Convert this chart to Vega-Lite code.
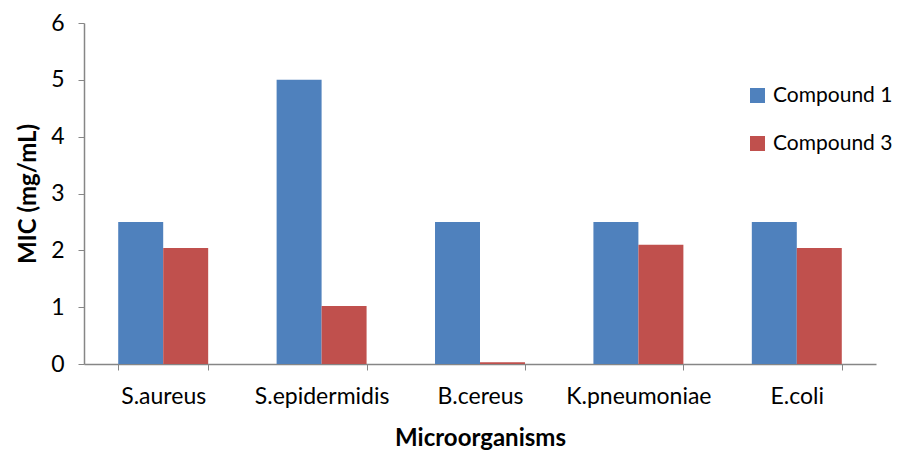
{
  "$schema": "https://vega.github.io/schema/vega-lite/v6.json",
  "width": 792,
  "height": 341,
  "autosize": {"type": "none"},
  "padding": {"left": 84, "top": 23, "right": 35, "bottom": 86},
  "background": "white",
  "config": {
    "font": "Lato",
    "view": {"stroke": null}
  },
  "data": {
    "values": [
      {"organism": "S.aureus", "compound": "Compound 1", "mic": 2.5},
      {"organism": "S.aureus", "compound": "Compound 3", "mic": 2.04},
      {"organism": "S.epidermidis", "compound": "Compound 1", "mic": 5.0},
      {"organism": "S.epidermidis", "compound": "Compound 3", "mic": 1.02},
      {"organism": "B.cereus", "compound": "Compound 1", "mic": 2.5},
      {"organism": "B.cereus", "compound": "Compound 3", "mic": 0.03},
      {"organism": "K.pneumoniae", "compound": "Compound 1", "mic": 2.5},
      {"organism": "K.pneumoniae", "compound": "Compound 3", "mic": 2.1},
      {"organism": "E.coli", "compound": "Compound 1", "mic": 2.5},
      {"organism": "E.coli", "compound": "Compound 3", "mic": 2.04}
    ]
  },
  "mark": {"type": "bar"},
  "encoding": {
    "x": {
      "field": "organism",
      "type": "nominal",
      "sort": null,
      "scale": {"paddingInner": 0.432, "paddingOuter": 0.216},
      "axis": {
        "title": "Microorganisms",
        "titleFontSize": 24,
        "titleFontWeight": "bold",
        "titleColor": "#000000",
        "titlePadding": 18,
        "labelAngle": 0,
        "labelFontSize": 23,
        "labelColor": "#000000",
        "labelPadding": 15,
        "tickBand": "extent",
        "tickSize": 6,
        "tickColor": "#868686",
        "domainColor": "#868686",
        "domainWidth": 1.5
      }
    },
    "xOffset": {"field": "compound", "type": "nominal"},
    "y": {
      "field": "mic",
      "type": "quantitative",
      "scale": {"domain": [0, 6], "nice": false},
      "axis": {
        "title": "MIC (mg/mL)",
        "titleFontSize": 24,
        "titleFontWeight": "bold",
        "titleColor": "#000000",
        "titlePadding": 10,
        "values": [0, 1, 2, 3, 4, 5, 6],
        "grid": false,
        "labelFontSize": 23,
        "labelColor": "#000000",
        "labelPadding": 14,
        "tickSize": 6,
        "tickColor": "#868686",
        "domainColor": "#868686",
        "domainWidth": 1.5
      }
    },
    "color": {
      "field": "compound",
      "type": "nominal",
      "scale": {"domain": ["Compound 1", "Compound 3"], "range": ["#4F81BD", "#C0504D"]},
      "legend": {
        "title": null,
        "orient": "none",
        "legendX": 663,
        "legendY": 62,
        "symbolType": "square",
        "symbolSize": 225,
        "symbolStrokeWidth": 0,
        "labelFontSize": 21,
        "labelColor": "#000000",
        "labelOffset": 5,
        "rowPadding": 26
      }
    }
  }
}
